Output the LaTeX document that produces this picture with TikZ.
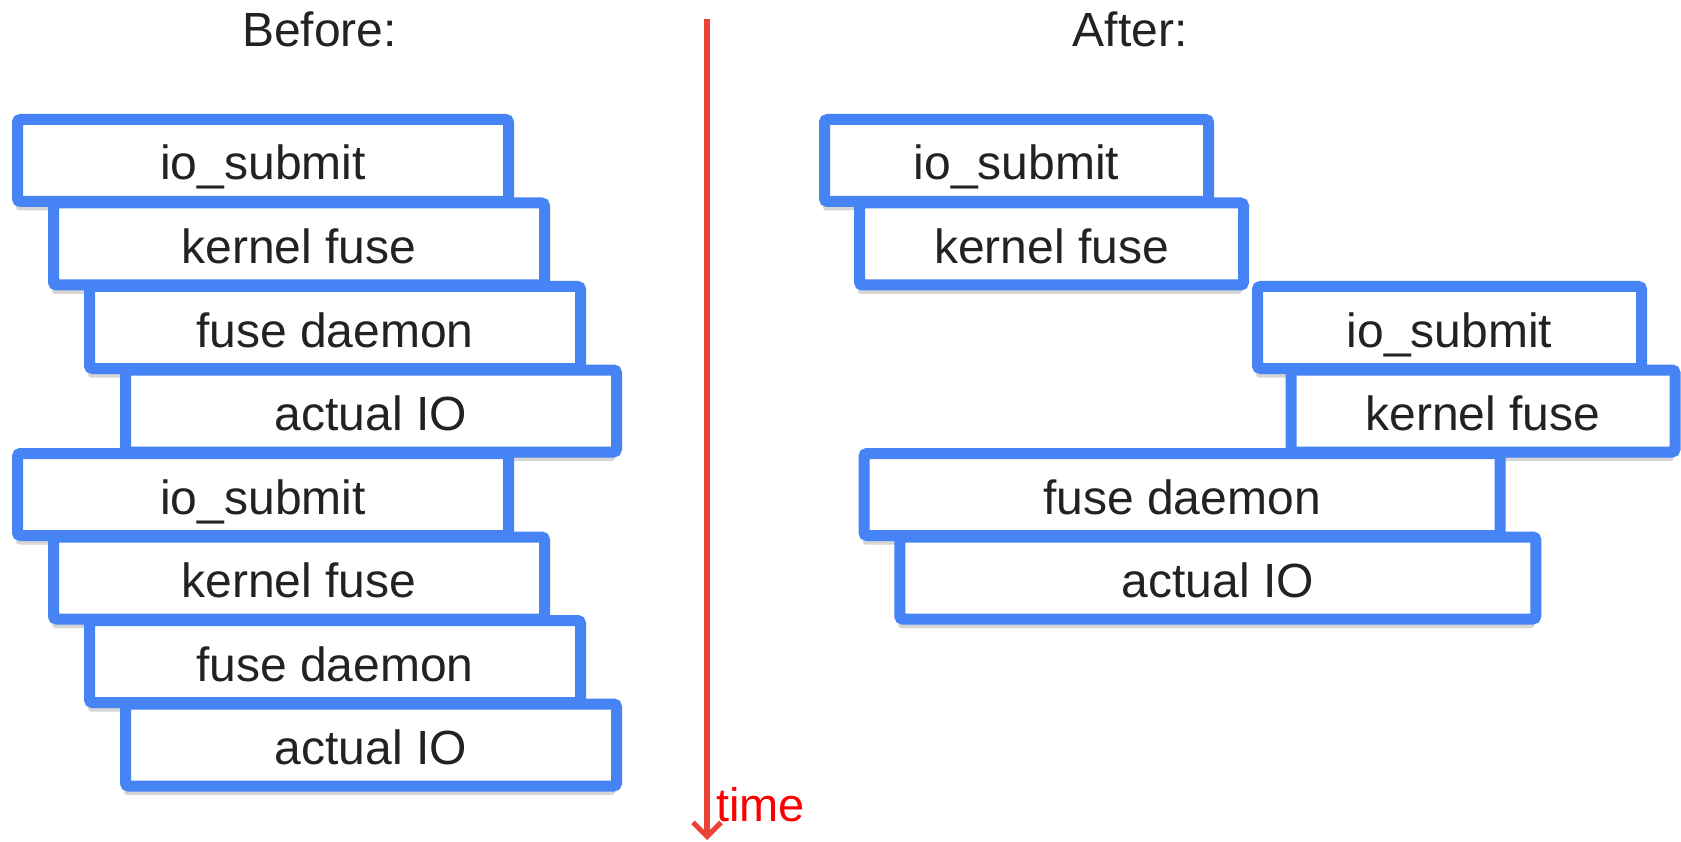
\documentclass[tikz,border=0pt]{standalone}
\usepackage{fontspec}
\setmainfont{Liberation Sans}
\usetikzlibrary{shadows,arrows.meta}
\definecolor{boxblue}{RGB}{70,132,245}
\definecolor{ink}{RGB}{34,34,34}
\definecolor{arrowred}{RGB}{234,67,53}
\definecolor{timered}{RGB}{250,0,0}
\newcommand{\labelfont}{\fontsize{48}{58}\selectfont}
\tikzset{
  blk/.style={draw=boxblue, line width=11pt, fill=white, rounded corners=3pt,
    text=ink, font=\labelfont, text height=39pt, text depth=0pt, inner sep=0pt,
    minimum height=82pt,
    drop shadow={shadow xshift=-1.5pt, shadow yshift=-9pt, opacity=0.16, fill=black}},
  narrow/.style={blk, minimum width=384pt},
  wide/.style={blk, minimum width=491pt},
  wider/.style={blk, minimum width=636pt},
  title/.style={text=ink, font=\labelfont, inner sep=0pt, anchor=base},
  timearrow/.style={draw=arrowred, line width=5.5pt,
    -{Straight Barb[length=14pt, width=28pt, line width=5pt]}},
}
\begin{document}
\begin{tikzpicture}[x=1pt, y=-1pt]
\useasboundingbox[fill=white] (0,0) rectangle (1681,842);

% headings
\node[title] (before) at (319.5,47) {Before:};
\node[title] (after) at (1130,47) {After:};

% time axis
\coordinate (tTop) at (707,19);
\coordinate (tEnd) at (707,840);
\draw[timearrow] (tTop) -- (tEnd);
\node[text=timered, font=\fontsize{47}{56}\selectfont, inner sep=0pt, anchor=base west]
  (timelbl) at (716,821) {time};

% sequential requests
\node[wide] (b1) at (263,160.5) {io\_submit};
\node[wide] (b2) at (299,244) {kernel fuse};
\node[wide] (b3) at (335,327.5) {fuse daemon};
\node[wide] (b4) at (371,411) {actual IO};
\node[wide] (b5) at (263,494.5) {io\_submit};
\node[wide] (b6) at (299,578) {kernel fuse};
\node[wide] (b7) at (335,661.5) {fuse daemon};
\node[wide] (b8) at (371,745) {actual IO};

% overlapped requests
\node[narrow] (a1) at (1016.5,160.5) {io\_submit};
\node[narrow] (a2) at (1051.5,244) {kernel fuse};
\node[narrow] (a3) at (1449.5,327.5) {io\_submit};
\node[narrow] (a4) at (1483,411) {kernel fuse};
\node[wider] (a5) at (1182,494.5) {fuse daemon};
\node[wider] (a6) at (1217.75,578) {actual IO};
\end{tikzpicture}
\end{document}
